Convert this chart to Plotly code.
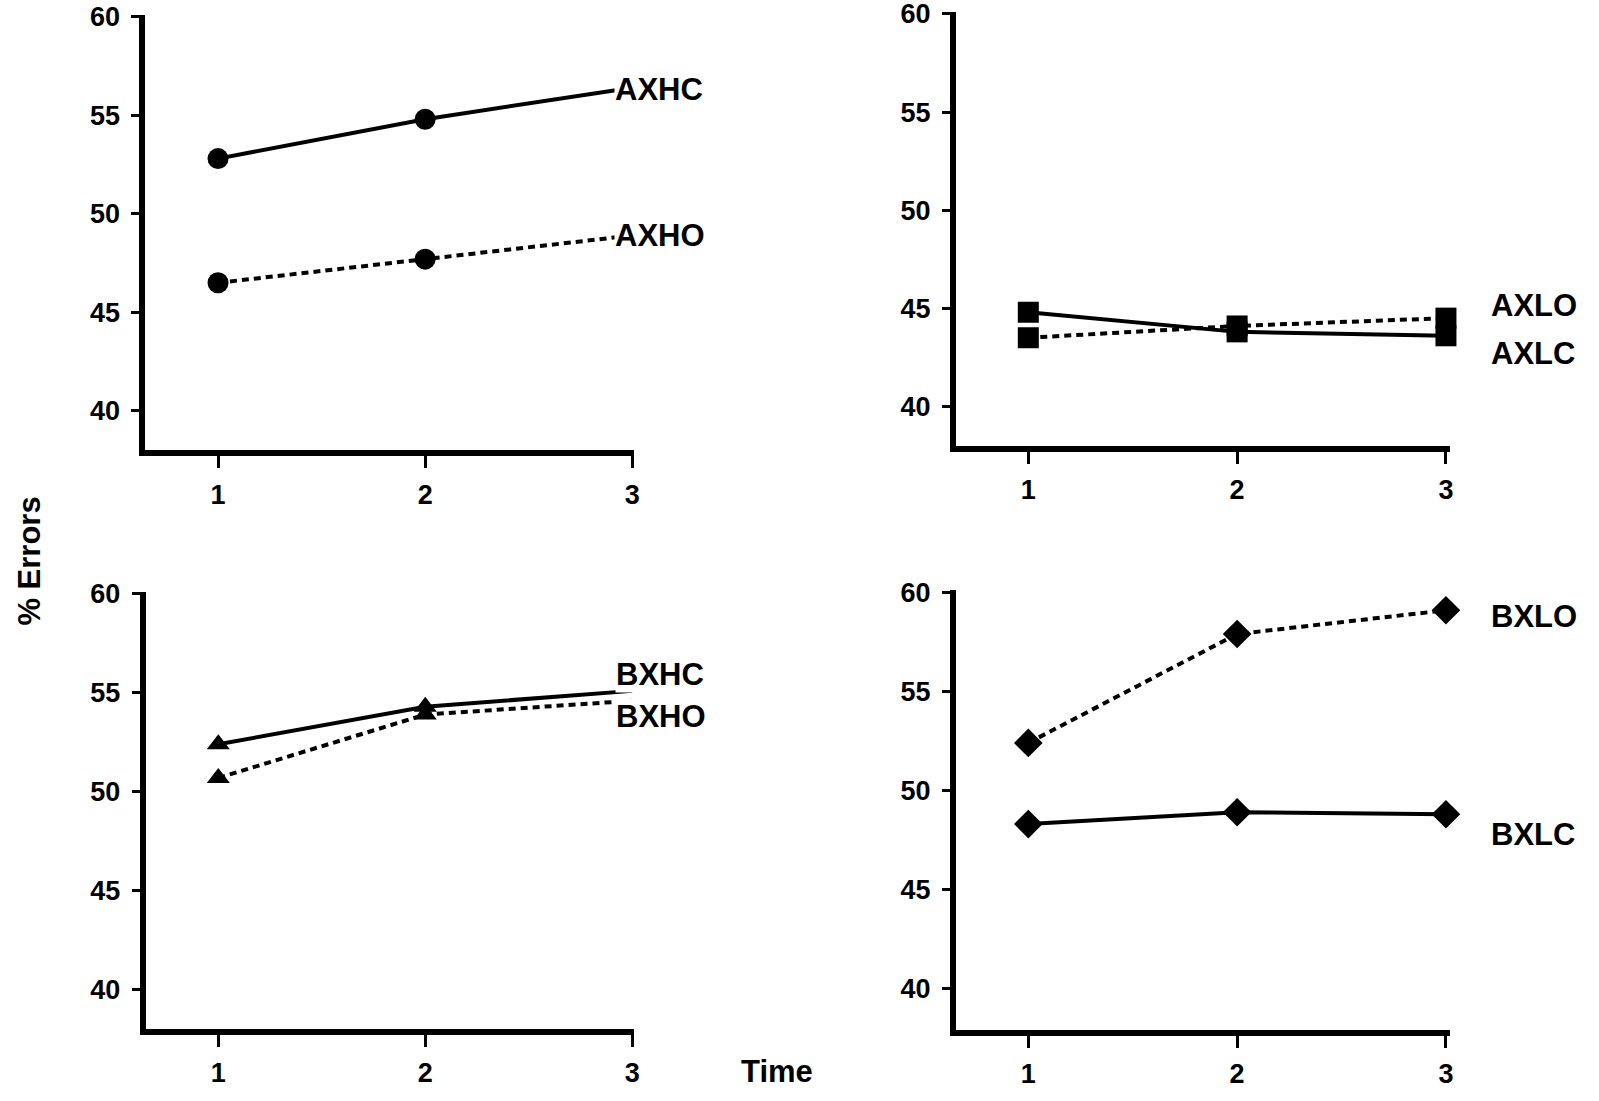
import plotly.graph_objects as go

time = [1, 2, 3]
y_ticks = [40, 45, 50, 55, 60]

AXHC = [52.8, 54.8, 56.4]
AXHO = [46.5, 47.7, 48.9]
AXLC = [44.8, 43.8, 43.6]
AXLO = [43.5, 44.1, 44.5]
BXHC = [52.4, 54.3, 55.1]
BXHO = [50.7, 53.9, 54.6]
BXLC = [48.3, 48.9, 48.8]
BXLO = [52.4, 57.9, 59.1]

FONT = "Liberation Sans, Arial, sans-serif"
DOT = "7px,5px"
W, H = 1599, 1101

fig = go.Figure()

def add(x, y, xa, ya, symbol, dashed, sizes):
    fig.add_trace(go.Scatter(
        x=x, y=y, xaxis=xa, yaxis=ya, mode="lines+markers",
        line=dict(color="black", width=4, dash=DOT if dashed else "solid"),
        marker=dict(symbol=symbol, color="black", size=sizes, opacity=1,
                    line=dict(width=0)),
        showlegend=False, cliponaxis=False,
    ))

# top-left (marker at time 3 hidden behind label)
add(time, AXHC, "x", "y", "circle", False, [21, 21, 0])
add(time, AXHO, "x", "y", "circle", True, [21, 21, 0])
# top-right
add(time, AXLC, "x2", "y2", "square", False, [21, 21, 21])
add(time, AXLO, "x2", "y2", "square", True, [21, 21, 21])
# bottom-left
add(time, BXHC, "x3", "y3", "triangle-up", False, [20, 20, 0])
add(time, BXHO, "x3", "y3", "triangle-up", True, [20, 20, 0])
# bottom-right
add(time, BXLC, "x4", "y4", "diamond", False, [22, 22, 22])
add(time, BXLO, "x4", "y4", "diamond", True, [22, 22, 22])

tickfont = dict(family=FONT, size=27, color="black", weight="bold")

def xax(domain, rng, anchor):
    return dict(domain=domain, range=rng, anchor=anchor, tickvals=time,
                ticks="outside", ticklen=12, tickwidth=3, tickcolor="black",
                showline=True, linewidth=6, linecolor="black", showgrid=False,
                zeroline=False, tickfont=tickfont, ticklabelstandoff=3,
                ticklabeloverflow="allow", automargin=False, fixedrange=True)

def yax(domain, rng, anchor):
    return dict(domain=domain, range=rng, anchor=anchor, tickvals=y_ticks,
                ticks="outside", ticklen=8, tickwidth=3, tickcolor="black",
                showline=True, linewidth=6, linecolor="black", showgrid=False,
                zeroline=False, tickfont=tickfont, ticklabelstandoff=6,
                ticklabeloverflow="allow", automargin=False, fixedrange=True)

fig.update_layout(
    width=W, height=H,
    margin=dict(l=0, r=0, t=0, b=0, autoexpand=False),
    paper_bgcolor="white", plot_bgcolor="white",
    xaxis=xax([0.0909, 0.3967], [0.649, 3.01], "y"),
    yaxis=yax([0.5910, 0.9866], [38.0, 60.1], "x"),
    xaxis2=xax([0.5979, 0.9069], [0.654, 3.02], "y2"),
    yaxis2=yax([0.5952, 0.9891], [38.0, 60.1], "x2"),
    xaxis3=xax([0.0911, 0.3967], [0.649, 3.01], "y3"),
    yaxis3=yax([0.0654, 0.4623], [38.0, 60.1], "x3"),
    xaxis4=xax([0.5979, 0.9069], [0.654, 3.02], "y4"),
    yaxis4=yax([0.0645, 0.4637], [37.9, 60.1], "x4"),
)

labfont = dict(family=FONT, size=31, color="black", weight="bold")
# label positions in pixels of the page
labels = [
    ("AXHC", 614, 89.7),
    ("AXHO", 614, 235.6),
    ("AXLO", 1490, 305.9),
    ("AXLC", 1490, 353.9),
    ("BXHC", 615, 674.0),
    ("BXHO", 615, 716.9),
    ("BXLO", 1490, 616.7),
    ("BXLC", 1490, 834.2),
]
for text, px, py in labels:
    fig.add_annotation(text=text, x=px / W, y=1 - py / H, xref="paper", yref="paper",
                       xanchor="left", yanchor="middle", showarrow=False, font=labfont,
                       bgcolor="white", borderpad=0)

fig.add_annotation(text="% Errors", x=28.6 / W, y=1 - 561 / H, xref="paper", yref="paper",
                   textangle=-90, showarrow=False, font=labfont, xanchor="center", yanchor="middle")
fig.add_annotation(text="Time", x=777 / W, y=1 - 1071 / H, xref="paper", yref="paper",
                   showarrow=False, font=labfont, xanchor="center", yanchor="middle")

fig.write_html("out.html")
